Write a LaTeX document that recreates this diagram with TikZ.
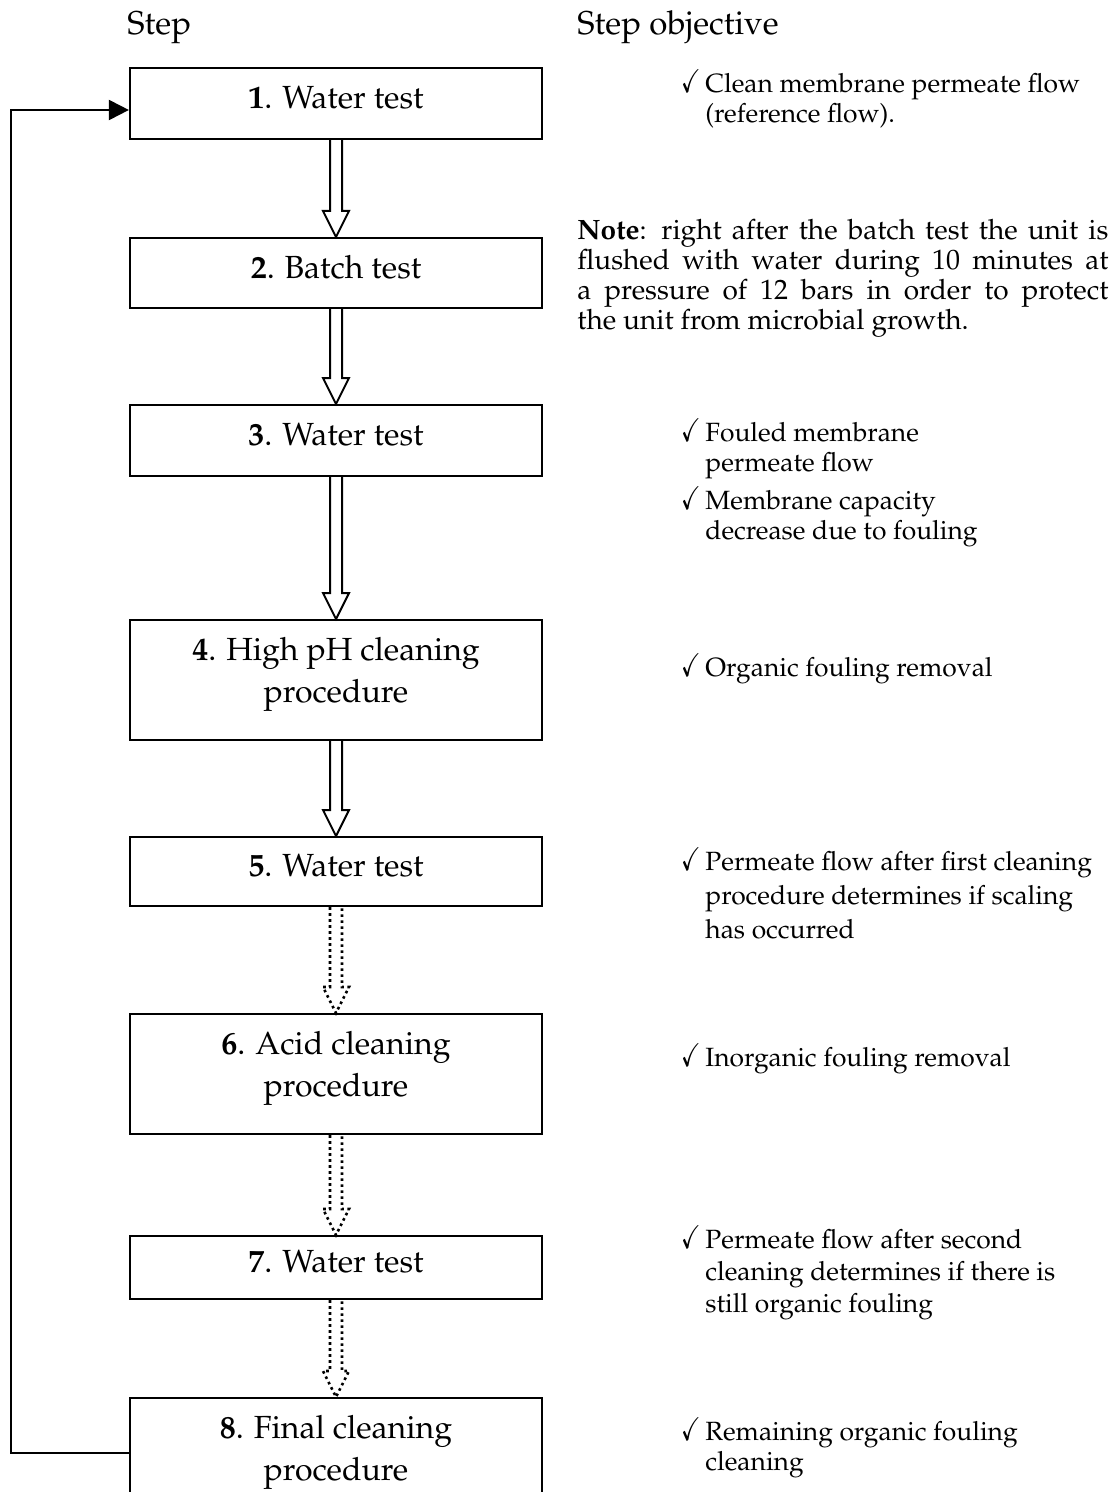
\documentclass[tikz,border=0pt]{standalone}
\usepackage[T1]{fontenc}
\usepackage{mathpazo}
\usepackage{amssymb}
\usetikzlibrary{arrows.meta,positioning,calc}
\tikzset{
  blk/.style={draw=black,line width=1.1pt,minimum width=206pt,inner sep=0pt},
  blktxt/.style={align=center,inner sep=0pt,font=\fontsize{16}{21}\selectfont},
  harr/.style={line width=1pt,line join=miter},
  dharr/.style={line width=1.3pt,dash pattern=on 1.3pt off 1.7pt},
  fb/.style={line width=1pt,-{Triangle[length=10pt,width=10pt]}},
  hdr/.style={font=\fontsize{16.5}{18}\selectfont,anchor=base west,inner sep=0pt},
  obj/.style={font=\fontsize{13.2}{15}\selectfont,anchor=north west,inner sep=0pt},
}
\newcommand\chk{\raisebox{0pt}[0pt][0pt]{\scalebox{0.85}[1.2]{$\checkmark$}}}
% hollow block arrow from the bottom of one box to the top of the next
\newcommand\blockarrow[3][harr]{%
  \draw[#1] ($(#2.south)+(-6,0)$) -- ($(#3.north)+(-6,-26)$) -- ($(#3.north)+(-13,-26)$)
    -- (#3.north) -- ($(#3.north)+(13,-26)$) -- ($(#3.north)+(6,-26)$) -- ($(#2.south)+(6,0)$);}
\renewcommand\arraystretch{1}

\begin{document}
\begin{tikzpicture}[x=0.5pt,y=-0.5pt]
\clip (0,0) rectangle (1110,1492);
\node[hdr] (hstep) at (127,35) {Step};
\node[hdr] (hobj) at (577,35) {Step objective};
% step boxes
\foreach \n/\top/\h/\txt in {1/67/71/Water test,2/237/70/Batch test,3/404/71/Water test,
    4/619/120/{High pH cleaning\\procedure},5/836/69/Water test,6/1013/120/{Acid cleaning\\procedure},
    7/1235/63/Water test,8/1397/120/{Final cleaning\\procedure}}{
  \node[blk,anchor=north,minimum height=\h*0.5pt] (b\n) at (336,\top) {};
  \node[blktxt] (t\n) at ([yshift=3pt]b\n.center) {\textbf{\n}. \txt};}
\foreach \a/\b in {1/2,2/3,3/4,4/5} \blockarrow{b\a}{b\b};
\foreach \a/\b in {5/6,6/7,7/8} \blockarrow[dharr]{b\a}{b\b};
% return line to the first water test
\coordinate (ret) at (11,110);
\draw[fb] ($(b8.north west)+(0,56)$) -| (ret) -- (ret -| b1.west);
% objectives
\node[obj] (o1) at (681,71) {\begin{tabular}{@{}p{12pt}@{}l@{}}\chk & Clean membrane permeate flow\\ & (reference flow).\end{tabular}};
\node[obj,font=\fontsize{14}{15}\selectfont,text width=265.5pt,align=justify] (note) at (577,219) {\textbf{Note}: right after the batch test the unit is\linebreak
  flushed with water during 10 minutes at\linebreak a pressure of 12 bars in order to protect\linebreak the unit from microbial growth.};
\node[obj] (o3) at (681,420) {\begin{tabular}{@{}p{12pt}@{}l@{}}\chk & Fouled membrane\\ & permeate flow\\[4pt]
  \chk & Membrane capacity\\ & decrease due to fouling\end{tabular}};
\node[obj] (o4) at (681,655) {\begin{tabular}{@{}p{12pt}@{}l@{}}\chk & Organic fouling removal\end{tabular}};
\node[obj] (o5) at (681,849) {\begin{tabular}{@{}p{12pt}@{}l@{}}\chk & Permeate flow after first cleaning\\[2pt]
  & procedure determines if scaling\\[2pt] & has occurred\end{tabular}};
\node[obj] (o6) at (681,1045) {\begin{tabular}{@{}p{12pt}@{}l@{}}\chk & Inorganic fouling removal\end{tabular}};
\node[obj] (o7) at (681,1227) {\begin{tabular}{@{}p{12pt}@{}l@{}}\chk & Permeate flow after second\\[1pt]
  & cleaning determines if there is\\[1pt] & still organic fouling\end{tabular}};
\node[obj] (o8) at (681,1419) {\begin{tabular}{@{}p{12pt}@{}l@{}}\chk & Remaining organic fouling\\ & cleaning\end{tabular}};
\end{tikzpicture}
\end{document}
